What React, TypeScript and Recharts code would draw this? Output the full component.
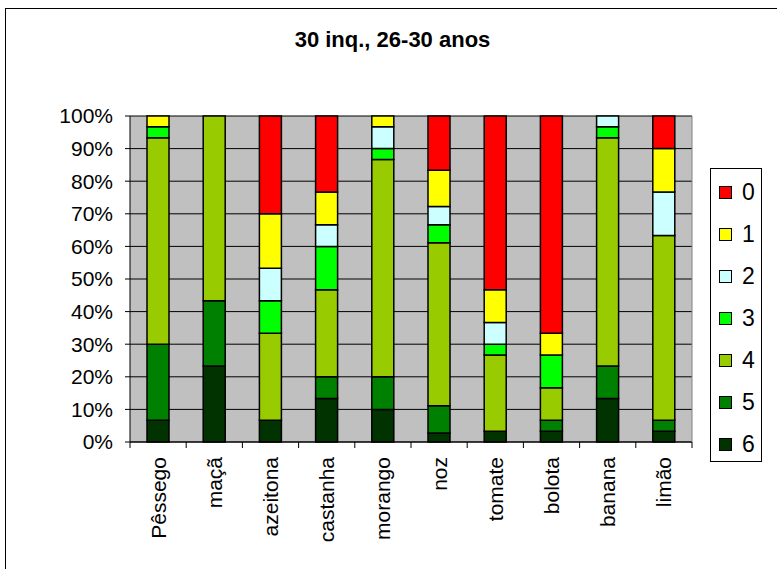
import React from 'react';
import { BarChart, Bar, XAxis, YAxis, CartesianGrid, Legend } from 'recharts';

// Answers per fruit, split by score (6 = bottom of each stack, 0 = top)
const categories = ['Pêssego', 'maçã', 'azeitona', 'castanha', 'morango', 'noz', 'tomate', 'bolota', 'banana', 'limão'];
const score6 = [2, 7, 2, 4, 3, 1, 1, 1, 4, 1];
const score5 = [7, 6, 0, 2, 3, 3, 0, 1, 3, 1];
const score4 = [19, 17, 8, 8, 20, 18, 7, 3, 21, 17];
const score3 = [1, 0, 3, 4, 1, 2, 1, 3, 1, 0];
const score2 = [0, 0, 3, 2, 2, 2, 2, 0, 1, 4];
const score1 = [1, 0, 5, 3, 1, 4, 3, 2, 0, 4];
const score0 = [0, 0, 9, 7, 0, 6, 16, 20, 0, 3];

const scoreKeys = ['0', '1', '2', '3', '4', '5', '6'];
const scoreColors: Record<string, string> = {
  '0': '#FF0000',
  '1': '#FFFF00',
  '2': '#CCFFFF',
  '3': '#00FF00',
  '4': '#99CC00',
  '5': '#008000',
  '6': '#003300',
};
const percentTicks = [0, 0.1, 0.2, 0.3, 0.4, 0.5, 0.6, 0.7, 0.8, 0.9, 1];

const data = categories.map((name, i) => ({
  name,
  '0': score0[i],
  '1': score1[i],
  '2': score2[i],
  '3': score3[i],
  '4': score4[i],
  '5': score5[i],
  '6': score6[i],
}));

// Stacking order: 6 at the bottom, 0 on top
const stackOrder = [...scoreKeys].reverse();

const FONT = '"Liberation Sans", Arial, sans-serif';

const CategoryTick = (props: any) => {
  const { x, y, payload, index } = props;
  const half = payload && payload.offset != null ? payload.offset : 28;
  const ty = y + 15;
  return (
    <g>
      <line x1={x - half} x2={x - half} y1={y} y2={y + 6} stroke="#000" strokeWidth={1} />
      {index === categories.length - 1 && (
        <line x1={x + half} x2={x + half} y1={y} y2={y + 6} stroke="#000" strokeWidth={1} />
      )}
      <text
        x={x}
        y={ty}
        transform={`rotate(-90, ${x}, ${ty})`}
        textAnchor="end"
        dominantBaseline="central"
        fontSize={21}
        fontFamily={FONT}
        fill="#000"
      >
        {payload.value}
      </text>
    </g>
  );
};

const LegendBox = () => (
  <div
    style={{
      position: 'relative',
      width: 52,
      height: 294,
      boxSizing: 'border-box',
      border: '1px solid #000',
      background: '#fff',
      fontFamily: FONT,
    }}
  >
    {scoreKeys.map((k, i) => (
      <div
        key={k}
        style={{
          position: 'absolute',
          left: 8,
          top: 15 + 42 * i,
          height: 16,
          display: 'flex',
          alignItems: 'center',
        }}
      >
        <span
          style={{
            display: 'inline-block',
            width: 13,
            height: 13,
            boxSizing: 'border-box',
            background: scoreColors[k],
            border: '1.5px solid #000',
          }}
        />
        <span style={{ marginLeft: 10, fontSize: 23, lineHeight: '16px', color: '#000' }}>{k}</span>
      </div>
    ))}
  </div>
);

export default function App() {
  return (
    <div
      style={{
        position: 'absolute',
        left: 0,
        top: 0,
        width: 777,
        height: 569,
        overflow: 'hidden',
        background: '#fff',
        fontFamily: FONT,
      }}
    >
      <div
        style={{
          position: 'absolute',
          left: 5,
          top: 8,
          width: 900,
          height: 700,
          borderLeft: '1px solid #000',
          borderTop: '1px solid #000',
        }}
      />
      <div
        style={{
          position: 'absolute',
          left: 0,
          top: 27,
          width: 785,
          textAlign: 'center',
          fontSize: 22,
          lineHeight: '26px',
          fontWeight: 'bold',
          color: '#000',
        }}
      >
        30 inq., 26-30 anos
      </div>
      <div style={{ position: 'absolute', left: 0, top: 0 }}>
        <BarChart
          width={777}
          height={569}
          data={data}
          stackOffset="expand"
          margin={{ top: 116, right: 84, bottom: 0, left: 0 }}
          barSize={22}
        >
          <CartesianGrid vertical={false} stroke="#000" strokeWidth={1} fill="#C0C0C0" fillOpacity={1} />
          <XAxis
            dataKey="name"
            height={127}
            interval={0}
            tickSize={0}
            tickMargin={0}
            tickLine={false}
            axisLine={{ stroke: '#000', strokeWidth: 1 }}
            tick={<CategoryTick />}
          />
          <YAxis
            width={130}
            domain={[0, 1]}
            ticks={percentTicks}
            interval={0}
            tickFormatter={(v: number) => `${Math.round(v * 100)}%`}
            tickSize={5}
            tickMargin={12}
            tickLine={{ stroke: '#000' }}
            axisLine={{ stroke: '#000', strokeWidth: 1 }}
            tick={{ fill: '#000', fontSize: 21, fontFamily: FONT }}
          />
          <YAxis
            yAxisId="frame"
            orientation="right"
            width={1}
            type="number"
            domain={[0, 1]}
            tick={false}
            tickLine={false}
            axisLine={{ stroke: '#808080', strokeWidth: 1 }}
          />
          {stackOrder.map((k) => (
            <Bar
              key={k}
              dataKey={k}
              name={k}
              stackId="s"
              fill={scoreColors[k]}
              stroke="#000"
              strokeWidth={1.5}
              isAnimationActive={false}
            />
          ))}
          <Legend
            layout="vertical"
            align="center"
            verticalAlign="middle"
            content={() => <LegendBox />}
            wrapperStyle={{ left: 710, top: 168, width: 52, height: 294 }}
          />
        </BarChart>
      </div>
    </div>
  );
}
